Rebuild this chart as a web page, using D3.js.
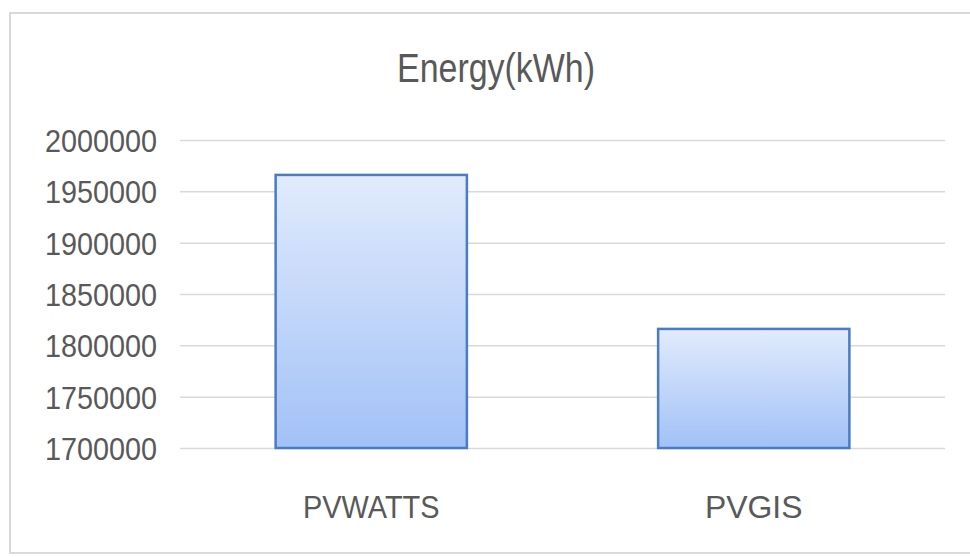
<!DOCTYPE html>
<html>
<head>
<meta charset="utf-8">
<script src="https://cdn.jsdelivr.net/npm/d3@7"></script>
<style>
    body { margin: 0; background: #fff; }
    text { font-family: "Liberation Sans", Arial, sans-serif; fill: #595959; }
</style>
</head>
<body>
<svg id="chart" width="970" height="557"></svg>
<script>
const categories = ["PVWATTS", "PVGIS"];
const energy = [1966000, 1816000];
const yTicks = [1700000, 1750000, 1800000, 1850000, 1900000, 1950000, 2000000];
const chartTitle = "Energy(kWh)";

const WIDTH = 970;
const HEIGHT = 557;
const PLOT_LEFT = 180;
const PLOT_RIGHT = 945;
const PLOT_TOP = 140;
const PLOT_BOTTOM = 448;

const svg = d3.select("#chart");

// gradient for the bars (light on top, darker blue at bottom)
const grad = svg.append("defs").append("linearGradient")
    .attr("id", "barFill")
    .attr("x1", 0).attr("y1", 0).attr("x2", 0).attr("y2", 1);
grad.append("stop").attr("offset", "0%").attr("stop-color", "#e1ebfc");
grad.append("stop").attr("offset", "100%").attr("stop-color", "#a2c1f7");

// outer chart frame, runs off the right edge like the picture
svg.append("rect")
    .attr("x", 10).attr("y", 13)
    .attr("width", WIDTH + 20).attr("height", 540)
    .attr("fill", "none")
    .attr("stroke", "#d9d9d9")
    .attr("stroke-width", 2);

const x = d3.scaleBand()
    .domain(categories)
    .range([PLOT_LEFT, PLOT_RIGHT])
    .paddingInner(0.5)
    .paddingOuter(0.25);

const y = d3.scaleLinear()
    .domain([1700000, 2000000])
    .range([PLOT_BOTTOM, PLOT_TOP]);

// gridlines + tick labels
const yAxis = d3.axisLeft(y)
    .tickValues(yTicks)
    .tickSize(-(PLOT_RIGHT - PLOT_LEFT))
    .tickPadding(23)
    .tickFormat(d3.format("d"));

const gy = svg.append("g")
    .attr("transform", "translate(" + PLOT_LEFT + ",0)")
    .call(yAxis);
gy.select(".domain").remove();
gy.selectAll(".tick line").attr("stroke", "#d9d9d9").attr("stroke-width", 1.5);
gy.selectAll(".tick text")
    .attr("fill", "#595959")
    .attr("font-size", 32)
    .attr("dy", "0.36em")
    .attr("textLength", 112)
    .attr("lengthAdjust", "spacingAndGlyphs");

// bars
svg.selectAll(".bar")
    .data(energy)
    .enter().append("rect")
    .attr("class", "bar")
    .attr("x", (d, i) => x(categories[i]))
    .attr("y", d => y(d))
    .attr("width", x.bandwidth())
    .attr("height", d => y(1700000) - y(d))
    .attr("fill", "url(#barFill)")
    .attr("stroke", "#4a7cc4")
    .attr("stroke-width", 2.5);

// category labels
svg.selectAll(".cat")
    .data(categories)
    .enter().append("text")
    .attr("class", "cat")
    .attr("x", d => x(d) + x.bandwidth() / 2)
    .attr("y", 518)
    .attr("text-anchor", "middle")
    .attr("font-size", 32)
    .attr("textLength", d => d.length * 19.5)
    .attr("lengthAdjust", "spacingAndGlyphs")
    .text(d => d);

// title
svg.append("text")
    .attr("x", 496)
    .attr("y", 82)
    .attr("text-anchor", "middle")
    .attr("font-size", 40)
    .attr("textLength", 198)
    .attr("lengthAdjust", "spacingAndGlyphs")
    .text(chartTitle);
</script>
</body>
</html>
